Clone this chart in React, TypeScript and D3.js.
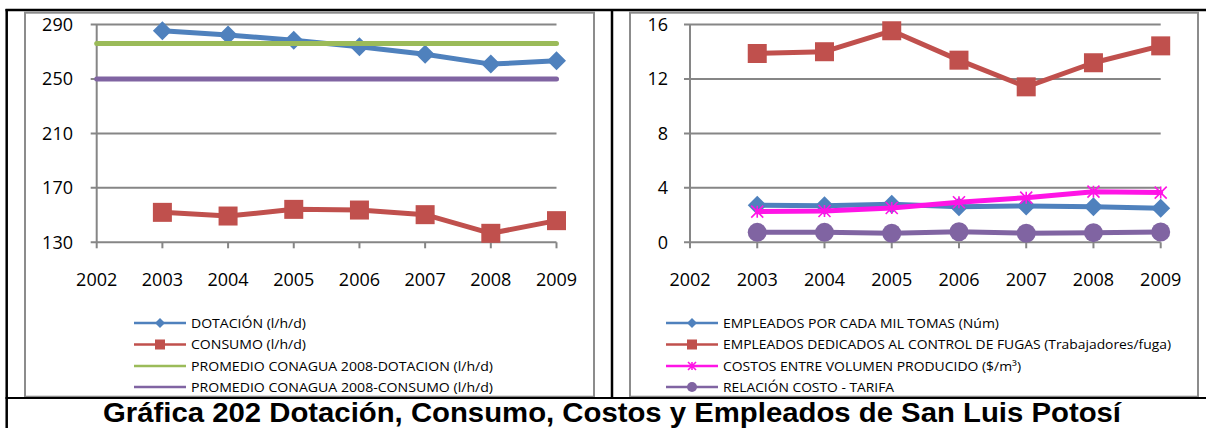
import React from "react";
import * as d3 from "d3";

// ---------- DATA ----------
const axisYears = [2002, 2003, 2004, 2005, 2006, 2007, 2008, 2009];
const dataYears = [2003, 2004, 2005, 2006, 2007, 2008, 2009];

const leftTicks = [130, 170, 210, 250, 290];
const rightTicks = [0, 4, 8, 12, 16];

const dotacion = [285.4, 282.2, 278.5, 273.6, 268.2, 260.9, 263.3];
const consumo = [152.0, 149.3, 154.2, 153.7, 150.3, 136.6, 145.9];
const promedioDotacion = [276, 276, 276, 276, 276, 276, 276, 276];
const promedioConsumo = [250, 250, 250, 250, 250, 250, 250, 250];

const empleadosMil = [2.72, 2.69, 2.79, 2.62, 2.67, 2.62, 2.5];
const empleadosFugas = [13.87, 14.0, 15.54, 13.38, 11.42, 13.19, 14.43];
const costosVolumen = [2.25, 2.3, 2.52, 2.94, 3.28, 3.72, 3.65];
const relacionCosto = [0.73, 0.73, 0.66, 0.78, 0.66, 0.71, 0.76];

const leftLegend = [
  "DOTACIÓN (l/h/d)",
  "CONSUMO (l/h/d)",
  "PROMEDIO CONAGUA 2008-DOTACION (l/h/d)",
  "PROMEDIO CONAGUA 2008-CONSUMO (l/h/d)",
];
const rightLegend = [
  "EMPLEADOS POR CADA MIL TOMAS (Núm)",
  "EMPLEADOS DEDICADOS AL CONTROL DE FUGAS (Trabajadores/fuga)",
  "COSTOS ENTRE VOLUMEN PRODUCIDO ($/m³)",
  "RELACIÓN COSTO - TARIFA",
];
const title = "Gráfica 202 Dotación, Consumo, Costos y Empleados de San Luis Potosí";

// ---------- STYLE ----------
const BLUE = "#4F81BD";
const RED = "#C0504D";
const GREEN = "#9BBB59";
const PURPLE = "#8064A2";
const MAGENTA = "#FF14E6";
const GRID = "#868686";
const FONT = "'Open Sans', 'Liberation Sans', Arial, sans-serif";

type Marker = "diamond" | "square" | "star" | "circle" | "none";

function MarkerShape({ type, x, y, s, color }: { type: Marker; x: number; y: number; s: number; color: string }) {
  if (type === "diamond") {
    const r = s / 2;
    return <path d={`M${x},${y - r}L${x + r},${y}L${x},${y + r}L${x - r},${y}Z`} fill={color} />;
  }
  if (type === "square") {
    return <rect x={x - s / 2} y={y - s / 2} width={s} height={s} fill={color} />;
  }
  if (type === "circle") {
    return <circle cx={x} cy={y} r={s / 2} fill={color} />;
  }
  if (type === "star") {
    const r = s / 2;
    return (
      <path
        d={`M${x - r},${y - r}L${x + r},${y + r}M${x + r},${y - r}L${x - r},${y + r}M${x},${y - r}L${x},${y + r}`}
        stroke={color}
        strokeWidth={1.6}
        fill="none"
      />
    );
  }
  return null;
}

type Series = { xs: number[]; ys: number[]; color: string; marker: Marker; ms: number };

function Panel({
  x0,
  x1,
  yDomain,
  ticks,
  labelRight,
  series,
}: {
  x0: number;
  x1: number;
  yDomain: [number, number];
  ticks: number[];
  labelRight: number;
  series: Series[];
}) {
  const x = d3.scaleLinear().domain([2002, 2009]).range([x0, x1]);
  const y = d3.scaleLinear().domain(yDomain).range([242.3, 24.5]);
  const line = d3
    .line<[number, number]>()
    .x((d) => x(d[0]))
    .y((d) => y(d[1]));
  return (
    <g>
      {ticks.map((t) => (
        <g key={t}>
          <line x1={x0 - 6} x2={x1} y1={y(t)} y2={y(t)} stroke={GRID} strokeWidth={2} />
          <text x={labelRight} y={y(t) + 6.4} textAnchor="end" fontSize={18} fontFamily={FONT} fill="#000">
            {t}
          </text>
        </g>
      ))}
      <line x1={x0} x2={x0} y1={y(yDomain[1])} y2={y(yDomain[0])} stroke={GRID} strokeWidth={2} />
      {axisYears.map((yr) => (
        <g key={yr}>
          <line x1={x(yr)} x2={x(yr)} y1={y(yDomain[0])} y2={y(yDomain[0]) + 6} stroke={GRID} strokeWidth={2} />
          <text x={x(yr)} y={285.5} textAnchor="middle" fontSize={18} fontFamily={FONT} fill="#000">
            {yr}
          </text>
        </g>
      ))}
      {series.map((s, i) => {
        const pts = s.xs.map((xv, j) => [xv, s.ys[j]] as [number, number]);
        return (
          <g key={i}>
            <path
              d={line(pts) || ""}
              fill="none"
              stroke={s.color}
              strokeWidth={5}
              strokeLinejoin="round"
              strokeLinecap="round"
            />
            {s.marker !== "none" &&
              pts.map((p, j) => (
                <MarkerShape key={j} type={s.marker} x={x(p[0])} y={y(p[1])} s={s.ms} color={s.color} />
              ))}
          </g>
        );
      })}
    </g>
  );
}

function Legend({
  x0,
  items,
  colors,
  markers,
  widths,
}: {
  x0: number;
  items: string[];
  colors: string[];
  markers: Marker[];
  widths: number[];
}) {
  const rows = [323, 344.5, 366, 387];
  return (
    <g>
      {items.map((it, i) => (
        <g key={i}>
          <line x1={x0} x2={x0 + 52} y1={rows[i]} y2={rows[i]} stroke={colors[i]} strokeWidth={2.5} />
          <MarkerShape type={markers[i]} x={x0 + 26} y={rows[i]} s={markers[i] === "star" ? 8 : 10} color={colors[i]} />
          <text
            x={x0 + 57}
            y={rows[i] + 4.6}
            fontSize={13}
            fontFamily={FONT}
            fill="#000"
            textLength={widths[i]}
            lengthAdjust="spacingAndGlyphs"
          >
            {it}
          </text>
        </g>
      ))}
    </g>
  );
}

export default function App() {
  return (
    <div style={{ position: "absolute", left: 0, top: 0 }}>
      <svg width={1206} height={428} style={{ display: "block", background: "#fff" }}>
        {/* chart frames */}
        <rect x={25} y={12.7} width={569} height={384} fill="#fff" stroke="#8c8c8c" strokeWidth={2} />
        <rect x={630} y={12.7} width={568} height={384} fill="#fff" stroke="#8c8c8c" strokeWidth={2} />

        <Panel
          x0={96.7}
          x1={556.5}
          yDomain={[130, 290]}
          ticks={leftTicks}
          labelRight={73}
          series={[
            { xs: dataYears, ys: dotacion, color: BLUE, marker: "diamond", ms: 19 },
            { xs: dataYears, ys: consumo, color: RED, marker: "square", ms: 19 },
            { xs: axisYears, ys: promedioDotacion, color: GREEN, marker: "none", ms: 0 },
            { xs: axisYears, ys: promedioConsumo, color: PURPLE, marker: "none", ms: 0 },
          ]}
        />
        <Panel
          x0={690}
          x1={1160.7}
          yDomain={[0, 16]}
          ticks={rightTicks}
          labelRight={668}
          series={[
            { xs: dataYears, ys: empleadosMil, color: BLUE, marker: "diamond", ms: 19 },
            { xs: dataYears, ys: empleadosFugas, color: RED, marker: "square", ms: 19 },
            { xs: dataYears, ys: costosVolumen, color: MAGENTA, marker: "star", ms: 12 },
            { xs: dataYears, ys: relacionCosto, color: PURPLE, marker: "circle", ms: 19 },
          ]}
        />

        <Legend
          x0={134}
          items={leftLegend}
          colors={[BLUE, RED, GREEN, PURPLE]}
          markers={["diamond", "square", "none", "none"]}
          widths={[115, 115, 302, 302]}
        />
        <Legend
          x0={666}
          items={rightLegend}
          colors={[BLUE, RED, MAGENTA, PURPLE]}
          markers={["diamond", "square", "star", "circle"]}
          widths={[276, 448, 298, 171]}
        />

        {/* table borders */}
        <line x1={5.5} x2={1206} y1={10} y2={10} stroke="#000" strokeWidth={2.5} />
        <line x1={6.7} x2={6.7} y1={9} y2={428} stroke="#000" strokeWidth={2.5} />
        <line x1={612} x2={612} y1={10} y2={398} stroke="#000" strokeWidth={2.5} />
        <line x1={5.5} x2={1206} y1={398} y2={398} stroke="#000" strokeWidth={2} />

        <text
          x={103}
          y={421.5}
          fontSize={27}
          fontWeight="bold"
          fontFamily="'Liberation Sans', Arial, sans-serif"
          fill="#000"
          textLength={1018}
          lengthAdjust="spacingAndGlyphs"
        >
          {title}
        </text>
      </svg>
    </div>
  );
}
